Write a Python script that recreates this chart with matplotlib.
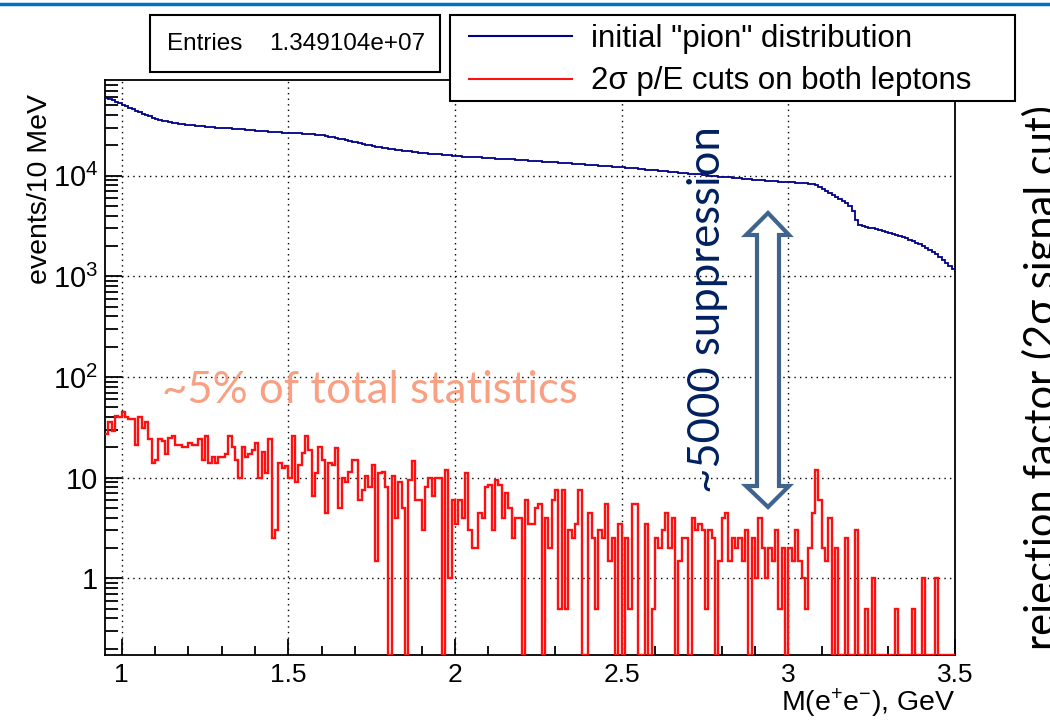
import numpy as np
import matplotlib.pyplot as plt
from matplotlib.patches import Rectangle, Polygon
from matplotlib.lines import Line2D
from matplotlib.ticker import FixedLocator, MultipleLocator, LogLocator, NullFormatter

plt.rcParams['font.family'] = ['Liberation Sans', 'DejaVu Sans']
plt.rcParams['mathtext.default'] = 'regular'

# histogram binning, GeV
x_lo, x_hi, bin_w = 0.95, 3.5, 0.01

# initial "pion" distribution, events per 10 MeV bin
pion = [59200, 57500, 56100, 54000, 52300,
        50600, 49100, 47200, 45900, 44300, 42600, 41300, 39800, 38900, 37600,
        36700, 35900, 35100, 34600, 34100, 33500, 33200, 32900, 32400, 32200,
        31900, 31600, 31400, 31100, 30900, 30700, 30500, 30300, 30100, 29900,
        29800, 29600, 29500, 29300, 29100, 29000, 28800, 28600, 28400, 28300,
        28100, 27900, 27800, 27600, 27400, 27200, 27000, 26900, 26700, 26600,
        26600, 26500, 26400, 26300, 26200, 26000, 25900, 25800, 25600, 25400,
        25200, 24900, 24500, 24100, 23700, 23300, 22900, 22500, 22100, 21800,
        21500, 21100, 20700, 20400, 20000, 19700, 19400, 19100, 18900, 18700,
        18500, 18300, 18100, 17900, 17700, 17500, 17400, 17200, 17100, 16900,
        16800, 16700, 16600, 16500, 16400, 16300, 16200, 16000, 15900, 15800,
        15700, 15600, 15500, 15500, 15400, 15300, 15200, 15200, 15100, 15000,
        15000, 14900, 14800, 14700, 14700, 14600, 14500, 14500, 14400, 14300,
        14300, 14200, 14100, 14100, 14000, 13900, 13800, 13800, 13700, 13600,
        13600, 13500, 13400, 13400, 13300, 13200, 13100, 13100, 13000, 12900,
        12800, 12800, 12700, 12600, 12500, 12500, 12400, 12300, 12200, 12200,
        12100, 12000, 11900, 11900, 11800, 11700, 11600, 11500, 11500, 11400,
        11300, 11200, 11100, 11100, 11000, 10900, 10800, 10700, 10700, 10600,
        10500, 10400, 10300, 10300, 10200, 10100, 10000, 9900, 9900, 9800,
        9700, 9600, 9600, 9500, 9400, 9400, 9300, 9200, 9200, 9100,
        9100, 9000, 9000, 8900, 8900, 8800, 8800, 8700, 8700, 8700,
        8600, 8600, 8500, 8500, 8400, 8400, 8300, 8200, 8000, 7700,
        7300, 7000, 6800, 6500, 6200, 5900, 5600, 5300, 5000, 4500,
        3600, 3250, 3150, 3100, 3050, 3000, 2950, 2900, 2830, 2770,
        2720, 2660, 2600, 2530, 2460, 2390, 2310, 2240, 2160, 2080,
        2000, 1920, 1840, 1760, 1660, 1560, 1460, 1360, 1270, 1190]

# after 2 sigma p/E cuts on both leptons
cut = [27, 36, 29, 41, 40, 45, 40, 38, 38, 21,
       40, 31, 36, 24, 14, 15, 24, 23, 17, 25,
       26, 21, 21, 20, 20, 22, 21, 21, 24, 15,
       26, 14, 16, 14, 16, 16, 17, 26, 20, 15,
       10, 20, 16, 17, 19, 22, 10, 18, 11, 24,
       2.5, 3, 14, 12.5, 13, 10, 26, 9, 13.5, 17.5,
       26, 19, 6.5, 11, 20, 15, 4.5, 14, 13.5, 19.5,
       5, 10, 9, 11.5, 15, 15, 6, 7.5, 10.5, 8,
       13.5, 1.5, 11, 11.5, 8, 0, 10.5, 4, 9, 5,
       0, 9.5, 14.5, 6, 6, 3, 8, 10, 6.5, 10,
       10, 0, 12, 1, 6, 3.5, 6, 4, 11, 3,
       2, 2, 4.5, 4, 8, 8.5, 3, 9.5, 8.5, 4,
       7, 5, 2.5, 4, 4, 0, 6, 3.5, 3.5, 5,
       5.5, 0, 4, 2, 6, 7.5, 0.5, 7.5, 0.5, 3,
       2.5, 3.5, 7.5, 0, 0, 4.5, 2.5, 0.5, 3, 2.5,
       5.5, 1.5, 2.5, 0, 3.5, 0, 2.5, 0.5, 5.5, 5.5,
       0, 0, 3.5, 0, 0.5, 2.5, 2, 3, 4.5, 2,
       4, 0, 1.5, 2.5, 2.5, 0, 4, 3, 3.5, 3,
       0.5, 3, 2.5, 0, 1.5, 4, 4.5, 1.5, 2.5, 2,
       2.5, 1.5, 3, 0, 2.5, 1, 4, 2, 1, 2,
       1.5, 3, 0.5, 2, 0, 2, 1.5, 3, 1.5, 1,
       0.5, 2, 4.5, 12, 6, 2, 1.5, 4, 0, 2,
       0, 0, 2.5, 0, 0, 3, 0, 0, 0.5, 0,
       1, 0, 0, 0, 0, 0, 0, 0.5, 0, 0,
       0, 0, 0.5, 0, 0, 1, 0, 0, 0, 1,
       0, 0, 0, 0, 0]

x_ticks = [1, 1.5, 2, 2.5, 3, 3.5]
x_ticklabels = ['1', '1.5', '2', '2.5', '3', '3.5']
y_ticks = [1, 10, 100, 1000, 10000]
y_ticklabels = ['1', '10', '$10^{2}$', '$10^{3}$', '$10^{4}$']
y_lo, y_hi = 0.173, 8.93e4

W, H = 1050, 727


def fx(px):
    return px / W


def fy(py):
    return 1 - py / H


fig = plt.figure(figsize=(W / 100, H / 100), dpi=100)
ax = fig.add_axes([fx(105), fy(655), fx(955) - fx(105), fy(80) - fy(655)])

pion = np.array(pion, dtype=float)
cut = np.array(cut, dtype=float)
edges = x_lo + bin_w * np.arange(len(pion) + 1)

ax.stairs(pion, edges, baseline=None, color='#000088', lw=1.3, zorder=3)
# empty bins are drawn down to the bottom of the frame, as ROOT does
ax.stairs(np.where(cut > 0, cut, y_lo), edges, baseline=None,
          color='#ff1010', lw=1.7, zorder=3)

ax.set_yscale('log')
ax.set_xlim(x_lo, x_hi)
ax.set_ylim(y_lo, y_hi)
ax.xaxis.set_major_locator(FixedLocator(x_ticks))
ax.set_xticklabels(x_ticklabels)
ax.xaxis.set_minor_locator(MultipleLocator(0.1))
ax.yaxis.set_major_locator(FixedLocator(y_ticks))
ax.set_yticklabels(y_ticklabels)
ax.yaxis.set_minor_locator(LogLocator(base=10, subs=np.arange(2, 10), numticks=20))
ax.yaxis.set_minor_formatter(NullFormatter())

ax.grid(True, which='major', color='black', ls=(0, (1, 3)), lw=1)
ax.tick_params(which='both', direction='in', top=False, right=False, width=1.3)
ax.tick_params(axis='y', which='major', length=12.5, labelsize=21, pad=5)
ax.tick_params(axis='y', which='minor', length=9.5)
ax.tick_params(axis='x', which='major', length=11.5, labelsize=19, pad=6)
ax.tick_params(axis='x', which='minor', length=6.5)
for s in ax.spines.values():
    s.set_linewidth(1.3)

fig.text(fx(40), fy(94), 'events/10 MeV', rotation=90, ha='center', va='top', fontsize=20.5)
fig.text(fx(955), fy(703), 'M(e$^{+}$e$^{-}$), GeV', ha='right', va='center', fontsize=20.5)

# stats box
fig.add_artist(Rectangle((fx(150), fy(72)), fx(440) - fx(150), fy(15) - fy(72),
                         transform=fig.transFigure, facecolor='white',
                         edgecolor='black', lw=1.5, zorder=4))
fig.text(fx(167), fy(44), 'Entries', va='center', fontsize=17.5, zorder=5)
fig.text(fx(425), fy(44), '1.349104e+07', ha='right', va='center', fontsize=17.5, zorder=5)

# legend
fig.add_artist(Rectangle((fx(450), fy(101)), fx(1015) - fx(450), fy(15) - fy(101),
                         transform=fig.transFigure, facecolor='white',
                         edgecolor='black', lw=1.5, zorder=4))
handles = [Line2D([], [], color='#000088', lw=1.5), Line2D([], [], color='#ff1010', lw=1.5)]
labels = ['initial "pion" distribution', '2σ p/E cuts on both leptons']
leg = fig.legend(handles, labels, loc='upper left', bbox_to_anchor=(fx(469), fy(24)),
                 bbox_transform=fig.transFigure, frameon=False, fontsize=22.5,
                 borderpad=0, borderaxespad=0, handlelength=3.3, handletextpad=0.6,
                 labelspacing=0.4)
leg.set_zorder(5)

# slide decorations
fig.add_artist(Line2D([0, 1], [fy(4), fy(4)], transform=fig.transFigure, color='#0070C0', lw=2.5))
fig.text(fx(162), fy(390), '~5% of total statistics', ha='left', va='center',
         fontsize=31.5, color='#F9A083', family=['Lato', 'DejaVu Sans'])
fig.text(fx(707), fy(310), '~5000 suppression', rotation=90, ha='center', va='center',
         fontsize=31.5, color='#002060', family=['Lato', 'DejaVu Sans'])
fig.text(fx(1042), fy(378), 'rejection factor (2σ signal cut)', rotation=90, ha='center',
         va='center', fontsize=30, color='black', family=['Lato', 'DejaVu Sans'])

# double arrow, pixel outline
arrow_px = [(768, 213), (789, 235), (779, 235), (779, 486), (789, 486), (768, 507),
            (746, 486), (757, 486), (757, 235), (746, 235)]
fig.add_artist(Polygon([(fx(a), fy(b)) for a, b in arrow_px], closed=True,
                       transform=fig.transFigure, facecolor='white',
                       edgecolor='#41648F', lw=3, zorder=4))

fig.savefig('out.png', dpi=100)
